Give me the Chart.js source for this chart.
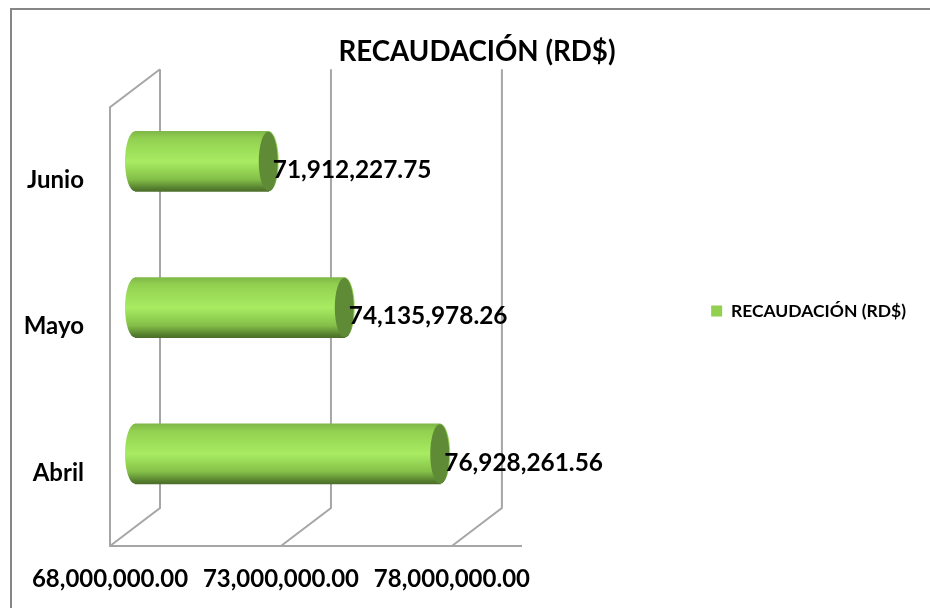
<!DOCTYPE html>
<html lang="en">
<head>
  <meta charset="UTF-8" />
  <title>Recaudación</title>
  <script src="https://cdn.jsdelivr.net/npm/chart.js"></script>
  <style>
    html, body { margin: 0; padding: 0; background: white; overflow: hidden; }
    #wrap { width: 930px; height: 608px; }
  </style>
</head>
<body>
  <div id="wrap"><canvas id="chart" width="930" height="608"></canvas></div>

  <script>
    const titleText = "RECAUDACIÓN (RD$)";
    const months = ["Junio", "Mayo", "Abril"];
    const recaudacion = [71912227.75, 74135978.26, 76928261.56];
    const tickValues = [68000000, 73000000, 78000000];

    const fontName = "Lato, 'Open Sans', sans-serif";
    const wallColor = "#a6a6a6";
    const depthX = 50, depthY = 38;   // 3d box depth
    const barH = 60, capW = 10;

    const money = v => v.toLocaleString("en-US", { minimumFractionDigits: 2, maximumFractionDigits: 2 });

    function barGradient(ctx, yc) {
      // scales are not laid out yet on the first pass
      if (!Number.isFinite(yc)) return "#92d050";
      const g = ctx.createLinearGradient(0, yc - barH / 2, 0, yc + barH / 2);
      g.addColorStop(0, "#7fb848");
      g.addColorStop(0.12, "#92d050");
      g.addColorStop(0.5, "#a8ec62");
      g.addColorStop(0.8, "#84bf48");
      g.addColorStop(0.95, "#557f2e");
      g.addColorStop(1, "#4c6e2a");
      return g;
    }

    // frame and the 3d walls behind the bars
    const wallsPlugin = {
      id: "walls",
      beforeDatasetsDraw(chart) {
        const { ctx, chartArea, scales } = chart;
        const top = chartArea.top, bottom = chartArea.bottom;
        const x0 = scales.x.getPixelForValue(tickValues[0]);
        ctx.save();
        ctx.strokeStyle = "#868686";
        ctx.lineWidth = 2;
        ctx.beginPath();
        ctx.moveTo(11, 608);
        ctx.lineTo(11, 9);
        ctx.lineTo(930, 9);
        ctx.stroke();

        ctx.strokeStyle = wallColor;
        ctx.lineWidth = 2;
        ctx.beginPath();
        tickValues.forEach(v => {
          const x = scales.x.getPixelForValue(v);
          ctx.moveTo(x + depthX, top - depthY);
          ctx.lineTo(x + depthX, bottom - depthY);
          ctx.lineTo(x, bottom);
        });
        ctx.moveTo(x0 + depthX, top - depthY);
        ctx.lineTo(x0, top);
        ctx.lineTo(x0, bottom);
        ctx.lineTo(scales.x.getPixelForValue(80050000), bottom);
        ctx.stroke();
        ctx.restore();

        // bars sit half way into the box
        ctx.save();
        ctx.translate(depthX / 2, -depthY / 2);
      },
      afterDatasetsDraw(chart) {
        const { ctx } = chart;
        const meta = chart.getDatasetMeta(0);
        meta.data.forEach(bar => {
          ctx.fillStyle = barGradient(ctx, bar.y);
          ctx.beginPath();
          ctx.ellipse(bar.base, bar.y, capW, barH / 2, 0, 0, Math.PI * 2);
          ctx.fill();

          ctx.fillStyle = barGradient(ctx, bar.y);
          ctx.beginPath();
          ctx.ellipse(bar.x, bar.y, capW, barH / 2, 0, 0, Math.PI * 2);
          ctx.fill();
          ctx.fillStyle = "#5f8b36";
          ctx.beginPath();
          ctx.ellipse(bar.x - 0.5, bar.y, capW - 0.5, barH / 2 - 0.5, 0, 0, Math.PI * 2);
          ctx.fill();
        });
        ctx.restore();

        ctx.save();
        ctx.fillStyle = "#000";
        ctx.font = "bold 24.4px " + fontName;
        ctx.textBaseline = "middle";
        meta.data.forEach((bar, i) => {
          ctx.fillText(money(recaudacion[i]), bar.x + depthX / 2 + 4, bar.y - depthY / 2 + 9);
        });
        ctx.restore();
      }
    };

    new Chart(document.getElementById("chart"), {
      type: "bar",
      data: {
        labels: months,
        datasets: [{
          label: titleText,
          data: recaudacion,
          base: tickValues[0],
          barThickness: barH,
          borderWidth: 0,
          backgroundColor: c => barGradient(c.chart.ctx, c.chart.scales.y && c.chart.scales.y.getPixelForValue(c.dataIndex))
        }]
      },
      options: {
        indexAxis: "y",
        responsive: false,
        animation: false,
        layout: { padding: { left: 38, right: 14, top: 0, bottom: 0 } },
        plugins: {
          tooltip: { enabled: false },
          title: {
            display: true,
            text: titleText,
            color: "#000",
            font: { family: fontName, size: 27.7, weight: "bold" },
            padding: { top: 35, bottom: 39 }
          },
          legend: {
            position: "right",
            labels: {
              color: "#000",
              boxWidth: 11,
              boxHeight: 11,
              font: { family: fontName, size: 17.5, weight: "bold" },
              generateLabels(chart) {
                const items = Chart.defaults.plugins.legend.labels.generateLabels(chart);
                items.forEach(it => { it.fillStyle = "#92d050"; it.strokeStyle = "#92d050"; it.lineWidth = 0; });
                return items;
              }
            }
          }
        },
        scales: {
          x: {
            min: 68000000,
            max: 85290000,
            afterBuildTicks(scale) { scale.ticks = tickValues.map(v => ({ value: v })); },
            afterFit(scale) { scale.height = 62; },
            border: { display: false },
            grid: { display: false, drawTicks: false },
            ticks: {
              autoSkip: false,
              maxRotation: 0,
              padding: 19,
              color: "#000",
              font: { family: fontName, size: 24, weight: "bold" },
              callback: v => money(v)
            }
          },
          y: {
            afterFit(scale) { scale.width = 72; },
            border: { display: false },
            grid: { display: false, drawTicks: false },
            ticks: {
              padding: 26,
              color: "#000",
              font: { family: fontName, size: 24, weight: "bold" }
            }
          }
        }
      },
      plugins: [wallsPlugin, {
        id: "layoutTweaks",
        afterLayout(chart) {
          // legend sits a bit above the plot centre, and month labels need room to the left
          chart.legend.top += 7;
          chart.legend.bottom += 7;
          chart.scales.y.left -= 30;
        }
      }]
    });
  </script>
</body>
</html>
